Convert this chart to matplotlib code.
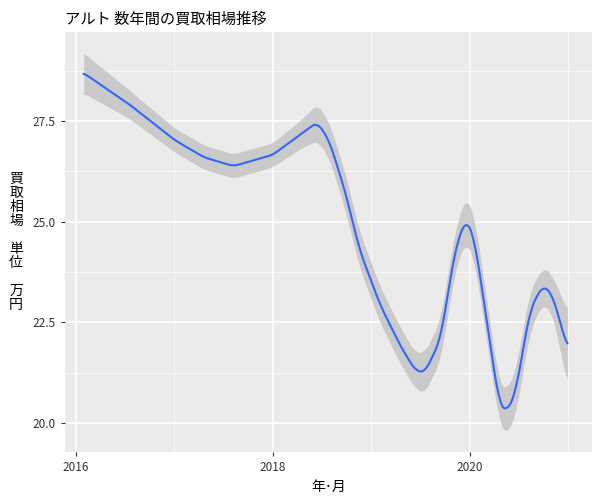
import matplotlib
matplotlib.use("Agg")
import matplotlib.pyplot as plt
import numpy as np

plt.rcParams['font.family'] = ['Noto Sans CJK JP', 'DejaVu Sans']

years = [2016.08, 2016.55, 2017.0, 2017.3, 2017.6, 2018.0, 2018.27, 2018.45, 2018.57, 2018.73, 2018.88,
         2019.09, 2019.29, 2019.44, 2019.54, 2019.7, 2019.85, 2019.96, 2020.05, 2020.2, 2020.3,
         2020.37, 2020.46, 2020.61, 2020.74, 2020.84, 2020.99]
price = [28.69, 27.9, 27.03, 26.6, 26.38, 26.66, 27.15, 27.47, 27.03, 25.79, 24.3,
         22.93, 21.94, 21.32, 21.24, 22.06, 24.3, 25.1, 24.54, 22.06, 20.45,
         20.27, 20.7, 22.8, 23.43, 23.18, 21.86]
se = [0.5, 0.35, 0.3, 0.3, 0.3, 0.3, 0.35, 0.45, 0.45, 0.45, 0.45,
      0.45, 0.45, 0.45, 0.5, 0.5, 0.5, 0.55, 0.55, 0.5, 0.5,
      0.55, 0.55, 0.5, 0.45, 0.5, 0.9]

xs = np.linspace(years[0], years[-1], 400)
ys = np.interp(xs, years, price)
k = np.ones(9) / 9
ysm = np.convolve(np.pad(ys, 4, mode='edge'), k, mode='valid')
ses = np.interp(xs, years, se)

fig = plt.figure(figsize=(6, 5), dpi=100)
ax = fig.add_axes([65/600, 48/500, 527/600, 420/500])
ax.set_facecolor('#EBEBEB')
ax.fill_between(xs, ysm - ses, ysm + ses, color='#BFBFBF', alpha=0.75, lw=0)
ax.plot(xs, ysm, color='#3366FF', lw=1.5)
ax.set_xlim(2015.89, 2021.24)
ax.set_ylim(19.28, 29.71)
ax.set_xticks([2016, 2018, 2020])
ax.set_xticks([2017, 2019, 2021], minor=True)
ax.set_yticks([20.0, 22.5, 25.0, 27.5])
ax.set_yticklabels(['20.0', '22.5', '25.0', '27.5'])
ax.set_yticks([21.25, 23.75, 26.25, 28.75], minor=True)
ax.grid(which='major', color='white', lw=1.1)
ax.grid(which='minor', color='white', lw=0.5)
ax.set_axisbelow(True)
for s in ax.spines.values():
    s.set_visible(False)
ax.tick_params(colors='#333333', labelsize=8.5, length=3)
ax.tick_params(which='minor', length=0)
ax.set_xlabel('年･月', fontsize=10)
ax.set_ylabel('買\n取\n相\n場\n\n単\n位\n\n万\n円', rotation=0, fontsize=10,
              va='center', labelpad=12, linespacing=1.0)
ax.set_title('アルト 数年間の買取相場推移', loc='left', fontsize=11)
fig.savefig('out.png')
